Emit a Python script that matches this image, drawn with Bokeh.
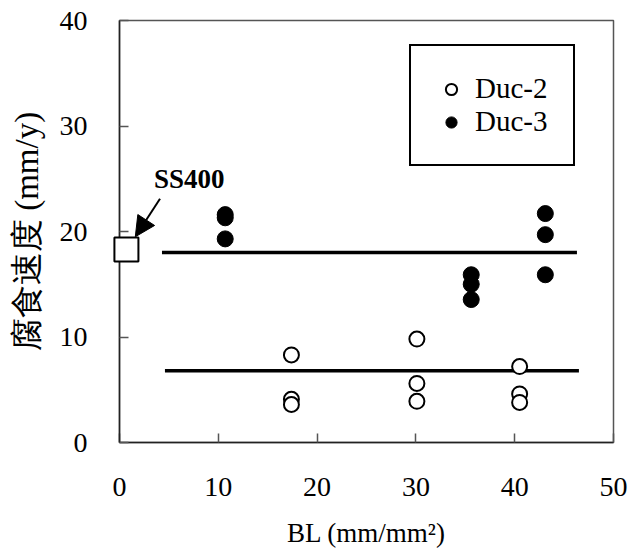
from bokeh.plotting import figure
from bokeh.models import (Range1d, Legend, LegendItem, Arrow, NormalHead, Label,
                          FixedTicker)
from bokeh.embed import file_html
from bokeh.resources import INLINE

# ---- data ----
duc2_x = [17.4, 17.4, 17.4, 30.1, 30.1, 30.1, 40.5, 40.5, 40.5]
duc2_y = [8.3, 4.1, 3.6, 9.8, 5.6, 3.9, 7.2, 4.6, 3.8]
duc3_x = [10.7, 10.7, 10.7, 35.6, 35.6, 35.6, 43.1, 43.1, 43.1]
duc3_y = [21.6, 21.3, 19.3, 15.9, 15.0, 13.55, 21.7, 19.7, 15.9]
ss400_x = [0.7]
ss400_y = [18.3]
mean_y = [18.0, 6.8]
mean_x0 = [4.3, 4.6]
mean_x1 = [46.3, 46.5]
x_ticks = [0, 10, 20, 30, 40, 50]
y_ticks = [0, 10, 20, 30, 40]
series_names = ["Duc-2", "Duc-3"]
ss400_label = "SS400"
ss400_label_pos = (3.5, 23.6)
arrow_start = (4.1, 23.1)
arrow_end = (1.6, 19.5)

FONT = "Liberation Serif"

p = figure(width=629, height=552, output_backend="svg", toolbar_location=None,
           x_range=Range1d(0, 50), y_range=Range1d(0, 40),
           min_border_left=119, min_border_right=16, min_border_top=20,
           min_border_bottom=110)
p.grid.visible = False
p.outline_line_color = "#555555"
p.outline_line_width = 1.5
p.background_fill_color = "white"
p.border_fill_color = "white"

p.axis.axis_line_color = "#222222"
p.axis.axis_line_width = 1.5
p.axis.major_tick_in = 9
p.axis.major_tick_out = 0
p.axis.major_tick_line_color = "#555555"
p.axis.major_tick_line_width = 1.5
p.axis.minor_tick_line_color = None
p.axis.major_label_text_font = FONT
p.axis.major_label_text_font_size = "28px"
p.axis.major_label_text_color = "black"
p.axis.axis_label_text_font = FONT
p.axis.axis_label_text_font_style = "normal"
p.axis.axis_label_text_color = "black"

p.xaxis.ticker = FixedTicker(ticks=x_ticks)
p.yaxis.ticker = FixedTicker(ticks=y_ticks)
p.xaxis.major_label_standoff = 35
p.yaxis.major_label_standoff = 32
p.xaxis.axis_label = "BL (mm/mm\u00b2)"
p.xaxis.axis_label_text_font_size = "27px"
p.xaxis.axis_label_standoff = 19
p.yaxis.axis_label = "腐食速度 (mm/y)"
p.yaxis.axis_label_text_font_size = "33px"
p.yaxis.axis_label_standoff = 12

# mean lines
p.segment(x0=mean_x0, y0=mean_y, x1=mean_x1, y1=mean_y,
          line_color="black", line_width=3.5)

r2 = p.scatter(duc2_x, duc2_y, marker="circle", size=15, fill_color="white",
               line_color="black", line_width=2)
r3 = p.scatter(duc3_x, duc3_y, marker="circle", size=16, fill_color="black",
               line_color="black", line_width=1)

rs = p.scatter(ss400_x, ss400_y, marker="square", size=24, fill_color="white",
               line_color="black", line_width=2, level="overlay")

p.add_layout(Arrow(end=NormalHead(size=20, fill_color="black", line_color="black"),
                   x_start=arrow_start[0], y_start=arrow_start[1],
                   x_end=arrow_end[0], y_end=arrow_end[1],
                   line_color="black", line_width=2))
p.add_layout(Label(x=ss400_label_pos[0], y=ss400_label_pos[1], text=ss400_label,
                   text_font=FONT, text_font_style="bold", text_font_size="27px",
                   text_color="black"))

legend = Legend(items=[LegendItem(label=series_names[0], renderers=[r2]),
                       LegendItem(label=series_names[1], renderers=[r3])],
                location=(290, 276), padding=26, spacing=0,
                label_text_font=FONT, label_text_font_size="29px",
                label_text_color="black", label_text_line_height=0.9,
                label_standoff=10, glyph_width=28, glyph_height=28,
                border_line_color="black", border_line_width=2,
                border_line_alpha=1.0,
                background_fill_color="white", background_fill_alpha=1)
p.add_layout(legend)

open("out.html", "w").write(file_html(p, INLINE))
